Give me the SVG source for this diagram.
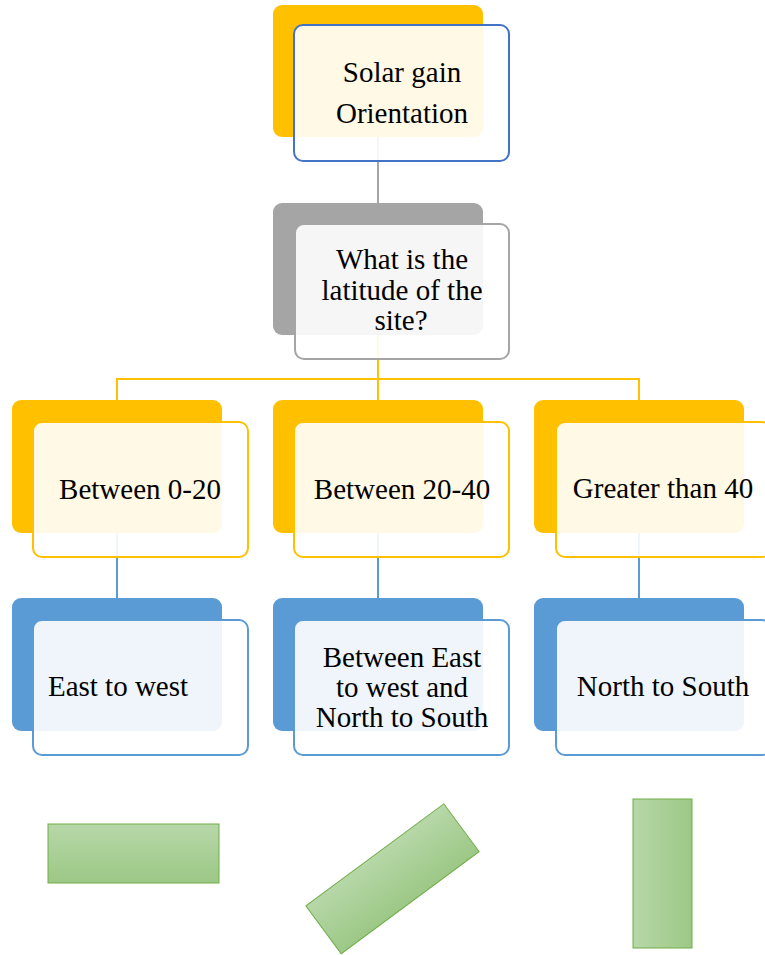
<svg xmlns="http://www.w3.org/2000/svg" width="765" height="955" viewBox="0 0 765 955">
<style>
text{font-family:"Liberation Serif","Times New Roman",serif;font-size:29px;fill:#000;text-anchor:middle}
.back{stroke:none}
.front{fill:#fff;fill-opacity:0.9;stroke-width:2}
.y{fill:#ffc000}.g{fill:#a5a5a5}.b{fill:#5b9bd5}
.sy{stroke:#ffc000}.sg{stroke:#a5a5a5}.sb{stroke:#5b9bd5}.sblue{stroke:#4472c4}
.conn{fill:none;stroke-width:2}
.green{stroke:#70ad47;stroke-width:1}
</style>
<defs>
<linearGradient id="gv" x1="0" y1="0" x2="0" y2="1"><stop offset="0" stop-color="#b7d7a8"/><stop offset="1" stop-color="#9cc886"/></linearGradient>
<linearGradient id="gh" x1="0" y1="0" x2="1" y2="0"><stop offset="0" stop-color="#b7d7a8"/><stop offset="1" stop-color="#9cc886"/></linearGradient>
</defs>
<g id="connectors">
<line class="conn sg" x1="378" y1="137" x2="378" y2="203"/>
<path class="conn sy" d="M378 335V379M117 400V379H639V400M378 379V400"/>
<line class="conn sb" x1="117" y1="533" x2="117" y2="598"/>
<line class="conn sb" x1="378" y1="533" x2="378" y2="598"/>
<line class="conn sb" x1="639" y1="533" x2="639" y2="598"/>
</g>
<g id="n_solar">
<rect class="back y" x="273" y="5" width="210" height="132" rx="9"/>
<rect class="front sblue" x="294" y="25" width="215" height="136" rx="9"/>
<text x="402" y="82">Solar gain</text>
<text x="402" y="123">Orientation</text>
</g>
<g id="n_latitude">
<rect class="back g" x="273" y="203" width="210" height="132" rx="9"/>
<rect class="front sg" x="295" y="224" width="214" height="135" rx="9"/>
<text x="402" y="269">What is the</text>
<text x="402" y="300">latitude of the</text>
<text x="401" y="330">site?</text>
</g>
<g id="n_0_20">
<rect class="back y" x="12" y="400" width="210" height="133" rx="9"/>
<rect class="front sy" x="33" y="422" width="215" height="135" rx="9"/>
<text x="140" y="499">Between 0-20</text>
</g>
<g id="n_20_40">
<rect class="back y" x="273" y="400" width="210" height="133" rx="9"/>
<rect class="front sy" x="294" y="422" width="215" height="135" rx="9"/>
<text x="402" y="499">Between 20-40</text>
</g>
<g id="n_40">
<rect class="back y" x="534" y="400" width="210" height="133" rx="9"/>
<rect class="front sy" x="556" y="422" width="215" height="135" rx="9"/>
<text x="663" y="498">Greater than 40</text>
</g>
<g id="n_ew">
<rect class="back b" x="12" y="598" width="210" height="133" rx="9"/>
<rect class="front sb" x="33" y="620" width="215" height="135" rx="9"/>
<text x="118" y="696">East to west</text>
</g>
<g id="n_mid">
<rect class="back b" x="273" y="598" width="210" height="133" rx="9"/>
<rect class="front sb" x="294" y="620" width="215" height="135" rx="9"/>
<text x="402" y="667">Between East</text>
<text x="402" y="697">to west and</text>
<text x="402" y="727">North to South</text>
</g>
<g id="n_ns">
<rect class="back b" x="534" y="598" width="210" height="133" rx="9"/>
<rect class="front sb" x="556" y="620" width="215" height="135" rx="9"/>
<text x="663" y="696">North to South</text>
</g>
<g id="shape_ew">
<rect class="green" x="48" y="824" width="171" height="59" fill="url(#gv)"/>
</g>
<g id="shape_diag">
<rect class="green" x="-85.8" y="-29.7" width="171.6" height="59.4" fill="url(#gv)" transform="translate(392.5 878.8) rotate(-36.5)"/>
</g>
<g id="shape_ns">
<rect class="green" x="633" y="799" width="59" height="149" fill="url(#gh)"/>
</g>
</svg>
